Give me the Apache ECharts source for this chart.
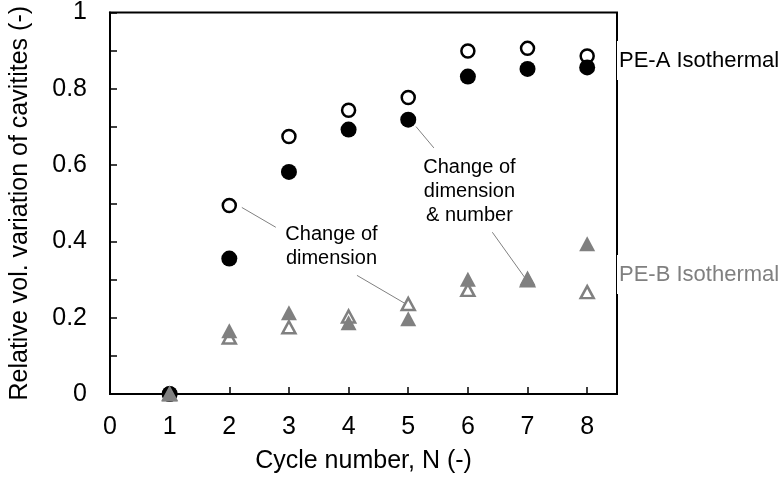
<!DOCTYPE html>
<html>
  <head>
    <meta charset="utf-8">
    <title>ECharts</title>
    <style type="text/css">
    html,body{margin:0;padding:0;background:#fff;}
    #chart{width:782px;height:479px;}
    </style>
    <script src="https://cdn.jsdelivr.net/npm/echarts@6/dist/echarts.min.js"></script>
  </head>
  <body>
    <div id="chart"></div>
    <script type="text/javascript">
      // data
      var cycles = [1, 2, 3, 4, 5, 6, 7, 8];
      var peaOpen = [0, 0.494, 0.675, 0.744, 0.777, 0.899, 0.906, 0.886];
      var peaFilled = [0, 0.355, 0.582, 0.693, 0.719, 0.832, 0.852, 0.856];
      var pebOpen = [0, 0.148, 0.175, 0.203, 0.236, 0.273, 0.298, 0.267];
      var pebFilled = [0, 0.166, 0.213, 0.187, 0.197, 0.301, 0.304, 0.394];
      var xTicks = [0, 1, 2, 3, 4, 5, 6, 7, 8];
      var yTicks = [0, 0.2, 0.4, 0.6, 0.8, 1];

      function pairs(ys) {
        return cycles.map(function (c, i) { return [c, ys[i]]; });
      }

      var font = 'Liberation Sans, Arial, sans-serif';
      var gray = '#808080';

      var myChart = echarts.init(document.getElementById('chart'));
      var option = {
        animation: false,
        grid: {
          left: 103, right: 165, top: 10, bottom: 81,
          show: true, borderColor: '#000', borderWidth: 2
        },
        xAxis: {
          type: 'value', min: 0, max: 8.5, interval: 1,
          name: 'Cycle number, N (-)', nameLocation: 'middle', nameGap: 55,
          nameTextStyle: { fontSize: 25, color: '#000', fontFamily: font },
          splitLine: { show: false },
          axisLine: { lineStyle: { color: '#000', width: 2 } },
          axisTick: { inside: true, length: 7, lineStyle: { color: '#000', width: 1.5 } },
          axisLabel: {
            fontSize: 25, color: '#000', fontFamily: font, margin: 21,
            formatter: function (v) { return xTicks.indexOf(v) >= 0 ? String(v) : ''; }
          }
        },
        yAxis: {
          type: 'value', min: 0, max: 1, interval: 0.1,
          name: 'Relative vol. variation of cavitites (-)', nameLocation: 'middle', nameGap: 77,
          nameTextStyle: { fontSize: 25, color: '#000', fontFamily: font },
          splitLine: { show: false },
          axisLine: { lineStyle: { color: '#000', width: 2 } },
          axisTick: { inside: true, length: 7, lineStyle: { color: '#000', width: 1.5 } },
          axisLabel: {
            fontSize: 25, color: '#000', fontFamily: font, margin: 23,
            formatter: function (v) {
              for (var i = 0; i < yTicks.length; i++) {
                if (Math.abs(yTicks[i] - v) < 1e-6) return String(yTicks[i]);
              }
              return '';
            }
          }
        },
        series: [
          {
            name: 'PE-A open', type: 'scatter', clip: false,
            data: pairs(peaOpen), symbol: 'circle', symbolSize: 13,
            itemStyle: { color: '#fff', borderColor: '#000', borderWidth: 2.5, opacity: 1 },
            markLine: {
              silent: true, symbol: 'none', label: { show: false },
              lineStyle: { color: gray, width: 1, type: 'solid' },
              data: [
                [{ coord: [2.21, 0.489] }, { coord: [2.78, 0.437] }],
                [{ coord: [4.14, 0.311] }, { coord: [4.96, 0.236] }],
                [{ coord: [5.13, 0.701] }, { coord: [5.43, 0.645] }],
                [{ coord: [6.41, 0.424] }, { coord: [6.95, 0.306] }]
              ]
            },
            markPoint: {
              silent: true, symbol: 'circle', symbolSize: 0,
              label: {
                show: true, position: 'inside', color: '#000', fontSize: 20,
                fontFamily: font, lineHeight: 24, align: 'center',
                formatter: function (p) { return p.name; }
              },
              data: [
                { name: 'Change of\ndimension', coord: [3.713, 0.386] },
                { name: 'Change of\ndimension\n& number', coord: [6.026, 0.532] }
              ]
            }
          },
          {
            name: 'PE-A filled', type: 'scatter', clip: false,
            data: pairs(peaFilled), symbol: 'circle', symbolSize: 16,
            itemStyle: { color: '#000', opacity: 1 },
            markPoint: {
              silent: true, symbol: 'circle', symbolSize: 0,
              label: {
                show: true, position: 'right', distance: 0, color: '#000',
                fontSize: 22, fontFamily: font, backgroundColor: '#fff',
                padding: [9, 2, 8, 2],
                formatter: function (p) { return p.name; }
              },
              data: [{ name: 'PE-A Isothermal', coord: [8.5, 0.874] }]
            }
          },
          {
            name: 'PE-B open', type: 'scatter', clip: false,
            data: pairs(pebOpen), symbol: 'triangle', symbolSize: [13, 12],
            itemStyle: { color: '#fff', borderColor: gray, borderWidth: 2.5, opacity: 1 }
          },
          {
            name: 'PE-B filled', type: 'scatter', clip: false,
            data: pairs(pebFilled), symbol: 'triangle', symbolSize: [16, 15],
            itemStyle: { color: gray, opacity: 1 },
            markPoint: {
              silent: true, symbol: 'circle', symbolSize: 0,
              label: {
                show: true, position: 'right', distance: 0, color: gray,
                fontSize: 22, fontFamily: font, backgroundColor: '#fff',
                padding: [9, 2, 8, 2],
                formatter: function (p) { return p.name; }
              },
              data: [{ name: 'PE-B Isothermal', coord: [8.5, 0.313] }]
            }
          }
        ]
      };
      myChart.setOption(option);
    </script>
  </body>
</html>
